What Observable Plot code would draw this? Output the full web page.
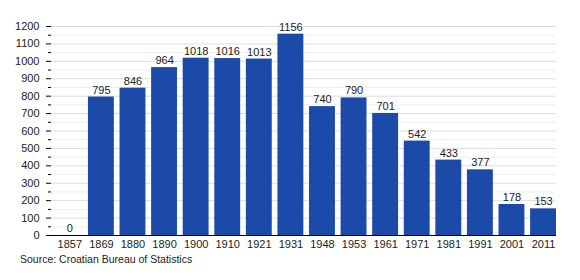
<!DOCTYPE html>
<html>
<head>
<meta charset="utf-8">
<script src="https://cdn.jsdelivr.net/npm/d3@7"></script>
<script src="https://cdn.jsdelivr.net/npm/@observablehq/plot@0.6"></script>
<style>
  html, body { margin: 0; padding: 0; background: #fff; }
  #chart { position: relative; width: 580px; height: 280px; }
  #chart svg { font-family: "Liberation Sans", Arial, sans-serif; }
  #caption { position: absolute; left: 20px; top: 253px; font: 10.5px "Liberation Sans", Arial, sans-serif; color: #222; }
</style>
</head>
<body>
<div id="chart"></div>
<script>
const years = ["1857","1869","1880","1890","1900","1910","1921","1931","1948","1953","1961","1971","1981","1991","2001","2011"];
const population = [0,795,846,964,1018,1016,1013,1156,740,790,701,542,433,377,178,153];
const majorTicks = d3.range(0, 1201, 100);
const minorTicks = d3.range(50, 1200, 100);
const caption = "Source: Croatian Bureau of Statistics";

const data = years.map((y, i) => ({year: y, value: population[i]}));

const plot = Plot.plot({
  width: 580,
  height: 250,
  marginTop: 26,
  marginBottom: 15,
  marginLeft: 51,
  marginRight: 24,
  style: {fontSize: "11px", color: "#222", background: "#fff"},
  x: {domain: years, paddingInner: 0.18, paddingOuter: 0.085, align: 1, round: false, label: null},
  y: {domain: [0, 1200], label: null},
  marks: [
    Plot.ruleY(minorTicks, {stroke: "#eeeeee", strokeWidth: 1}),
    Plot.ruleY(majorTicks, {stroke: "#dddddd", strokeWidth: 1}),
    Plot.barY(data, {x: "year", y: "value", fill: "#1c4aa8"}),
    Plot.text(data, {x: "year", y: "value", text: d => String(d.value), dy: -7, fill: "#222", fontSize: 11}),
    Plot.axisY(minorTicks, {tickSize: 3, text: null, stroke: "#000"}),
    Plot.axisY(majorTicks, {tickSize: 5, tickPadding: 7, tickFormat: "d", stroke: "#000", fill: "#222", fontSize: 11}),
    Plot.axisX({tickSize: 0, tickPadding: 5, fill: "#222", fontSize: 11}),
    Plot.ruleX([0], {frameAnchor: "left", stroke: "#000"}),
    Plot.ruleY([0], {stroke: "#000"})
  ]
});
document.getElementById("chart").appendChild(plot);
const cap = document.createElement("div");
cap.id = "caption";
cap.textContent = caption;
document.getElementById("chart").appendChild(cap);
</script>
</body>
</html>
